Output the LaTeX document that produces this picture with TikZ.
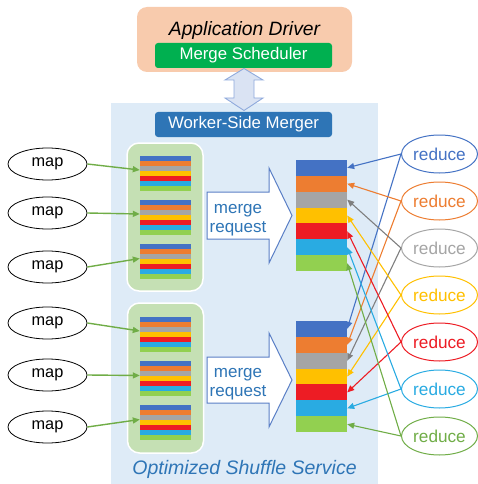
\documentclass[tikz,border=0pt]{standalone}
\usepackage{fontspec}
\setmainfont{Liberation Sans}
\usetikzlibrary{shapes.geometric,arrows.meta,calc}

\definecolor{bgBlue}{HTML}{DEEBF7}
\definecolor{peach}{HTML}{F8CBAD}
\definecolor{schedGreen}{HTML}{00B050}
\definecolor{wsmBlue}{HTML}{2E75B6}
\definecolor{boxGreen}{HTML}{C5E0B4}
\definecolor{dblFill}{HTML}{DAE3F3}
\definecolor{dblLine}{HTML}{8FAADC}
\definecolor{mrgLine}{HTML}{5A7FC6}
\definecolor{cBlue}{HTML}{4472C4}
\definecolor{cOrange}{HTML}{ED7D31}
\definecolor{cGray}{HTML}{A5A5A5}
\definecolor{cDGray}{HTML}{7F7F7F}
\definecolor{cYellow}{HTML}{FFC000}
\definecolor{cRed}{HTML}{ED1C24}
\definecolor{cCyan}{HTML}{29ABE2}
\definecolor{cLime}{HTML}{92D050}
\definecolor{cGreen}{HTML}{70AD47}

\newcommand{\fsz}[1]{\fontsize{#1}{#1}\selectfont}

\tikzset{
  bands/.style={path picture={
    \foreach \bc [count=\k from 0] in {cBlue,cOrange,cGray,cYellow,cRed,cCyan,cLime}{
      \fill[\bc] ($(path picture bounding box.north west)!{\k/7}!(path picture bounding box.south west)$)
        rectangle ($(path picture bounding box.north east)!{(\k+1)/7}!(path picture bounding box.south east)$);
    }}},
  smallstack/.style={rectangle, inner sep=0pt, minimum width=51pt, minimum height=35pt, bands},
  bigstack/.style={rectangle, inner sep=0pt, minimum width=51pt, minimum height=111pt, bands},
  container/.style={rectangle, rounded corners=12pt, fill=boxGreen, draw=white, line width=1.5pt, inner sep=0pt},
  banner/.style={rectangle, rounded corners=3pt, inner sep=0pt, minimum width=177pt, minimum height=25pt, text=white, font=\fsz{16.8}},
  mapnode/.style={ellipse, draw=black, line width=0.8pt, fill=white, minimum width=79pt, minimum height=32pt, inner sep=0pt, font=\fsz{16.3}},
  rednode/.style={ellipse, line width=1pt, fill=white, minimum width=76pt, minimum height=38pt, inner sep=0pt, font=\fsz{17.2}},
  marrow/.style={draw=cGreen, line width=1.4pt, -{Triangle[length=7pt,width=6pt]}},
  rarrow/.style={line width=1.1pt, -{Triangle[length=7pt,width=6pt]}},
  mergearrow/.style={draw=mrgLine, fill=white, line width=1pt, line join=miter},
  mergetext/.style={align=center, text=wsmBlue, font=\fsz{17}, inner sep=0pt}
}

\begin{document}
\begin{tikzpicture}[x=1pt,y=-1pt]
\useasboundingbox (0,0) rectangle (477,484);

% shuffle service region
\fill[bgBlue] (111,103) rectangle (378,484);

% driver with its scheduler
\node[rectangle, rounded corners=10pt, fill=peach, minimum width=215pt, minimum height=65pt, inner sep=0pt] (drv) at (244.5,39.5) {};
\node[font=\fsz{19.3}\itshape, inner sep=0pt] (drvlabel) at (244.5,31) {Application Driver};
\node[banner, fill=schedGreen] (sched) at (243.5,55.5) {Merge Scheduler};

% worker-side merger banner
\node[banner, fill=wsmBlue] (wsm) at (243.5,124.5) {Worker-Side Merger};

% two-way link between scheduler and merger
\filldraw[fill=dblFill, draw=dblLine, line width=0.9pt, line join=miter]
  (244,68.5) -- (263,80) -- (254,80) -- (254,98) -- (263,98) -- (244,110.5)
  -- (225,98) -- (234,98) -- (234,80) -- (225,80) -- cycle;

% map-side containers
\node[container, minimum width=76pt, minimum height=148pt] (c1) at (165,217) {};
\node[container, minimum width=76pt, minimum height=150pt] (c2) at (165.5,378) {};

% blocks inside containers
\node[smallstack] (s1) at (165.5,173) {};
\node[smallstack] (s2) at (165.5,217) {};
\node[smallstack] (s3) at (165.5,261.5) {};
\node[smallstack] (s4) at (165.5,334) {};
\node[smallstack] (s5) at (165.5,378.5) {};
\node[smallstack] (s6) at (165.5,422.5) {};

% merge request arrows
\filldraw[mergearrow] (207,192) -- (269,192) -- (269,168) -- (292,215.5) -- (269,263) -- (269,239) -- (207,239) -- cycle;
\node[mergetext] (mr1) at (238,220) {merge\\[1.5pt]request};
\filldraw[mergearrow] (207,357) -- (269,357) -- (269,333) -- (292,380) -- (269,427) -- (269,403) -- (207,403) -- cycle;
\node[mergetext] (mr2) at (238,384) {merge\\[1.5pt]request};

% merged partitions
\node[bigstack] (T) at (321.5,215.5) {};
\node[bigstack] (B) at (321.5,376.5) {};

% map tasks
\foreach \yy [count=\i] in {164,213,267,323,375,427}{
  \node[mapnode] (m\i) at (47.5,\yy) {map};
  \draw[marrow] (m\i.east) -- ([yshift=3pt]s\i.west);
}

% reducers
\foreach \yy/\tc [count=\i from 0] in {154/cBlue,201/cOrange,248/cGray,295/cYellow,342/cRed,389/cCyan,436/cGreen}{
  \node[rednode, draw=\tc, text=\tc] (r\i) at (439.5,\yy) {reduce};
}

% each reducer fetches its partition from both merged files
\foreach \ac [count=\i from 0] in {cBlue,cOrange,cDGray,cYellow,cRed,cCyan,cGreen}{
  \draw[rarrow,\ac] (r\i.west) -- ($(T.north east)!{(\i+0.5)/7}!(T.south east)$);
  \draw[rarrow,\ac] (r\i.west) -- ($(B.north east)!{(\i+0.5)/7}!(B.south east)$);
}

% service caption
\node[font=\fsz{19.5}\itshape, text=wsmBlue, inner sep=0pt] (svc) at (244.5,469) {Optimized Shuffle Service};
\end{tikzpicture}
\end{document}
